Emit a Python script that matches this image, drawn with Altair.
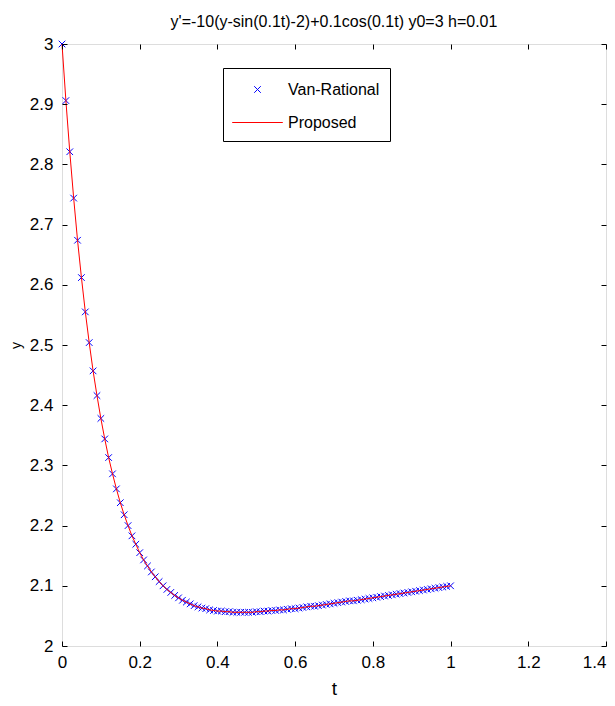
import altair as alt
import pandas as pd

# ---------------- data ----------------
t = [0.00, 0.01, 0.02, 0.03, 0.04, 0.05, 0.06, 0.07, 0.08, 0.09,
     0.10, 0.11, 0.12, 0.13, 0.14, 0.15, 0.16, 0.17, 0.18, 0.19,
     0.20, 0.21, 0.22, 0.23, 0.24, 0.25, 0.26, 0.27, 0.28, 0.29,
     0.30, 0.31, 0.32, 0.33, 0.34, 0.35, 0.36, 0.37, 0.38, 0.39,
     0.40, 0.41, 0.42, 0.43, 0.44, 0.45, 0.46, 0.47, 0.48, 0.49,
     0.50, 0.51, 0.52, 0.53, 0.54, 0.55, 0.56, 0.57, 0.58, 0.59,
     0.60, 0.61, 0.62, 0.63, 0.64, 0.65, 0.66, 0.67, 0.68, 0.69,
     0.70, 0.71, 0.72, 0.73, 0.74, 0.75, 0.76, 0.77, 0.78, 0.79,
     0.80, 0.81, 0.82, 0.83, 0.84, 0.85, 0.86, 0.87, 0.88, 0.89,
     0.90, 0.91, 0.92, 0.93, 0.94, 0.95, 0.96, 0.97, 0.98, 0.99, 1.00]

van_rational = [3.000, 2.906, 2.821, 2.744, 2.674, 2.612, 2.555, 2.504, 2.457, 2.416,
                2.378, 2.344, 2.313, 2.286, 2.261, 2.238, 2.218, 2.200, 2.183, 2.169,
                2.155, 2.143, 2.133, 2.123, 2.115, 2.107, 2.100, 2.094, 2.089, 2.084,
                2.080, 2.076, 2.073, 2.070, 2.067, 2.065, 2.063, 2.062, 2.060, 2.059,
                2.058, 2.058, 2.057, 2.057, 2.056, 2.056, 2.056, 2.056, 2.056, 2.056,
                2.057, 2.057, 2.058, 2.058, 2.059, 2.059, 2.060, 2.060, 2.061, 2.062,
                2.062, 2.063, 2.064, 2.065, 2.066, 2.066, 2.067, 2.068, 2.069, 2.070,
                2.071, 2.072, 2.073, 2.074, 2.075, 2.075, 2.076, 2.077, 2.078, 2.079,
                2.080, 2.081, 2.082, 2.083, 2.084, 2.085, 2.086, 2.087, 2.088, 2.089,
                2.090, 2.091, 2.092, 2.093, 2.094, 2.095, 2.096, 2.097, 2.098, 2.099, 2.100]

proposed = [3.000, 2.906, 2.821, 2.744, 2.674, 2.612, 2.555, 2.504, 2.457, 2.416,
            2.378, 2.344, 2.313, 2.286, 2.261, 2.238, 2.218, 2.200, 2.183, 2.169,
            2.155, 2.143, 2.133, 2.123, 2.115, 2.107, 2.100, 2.094, 2.089, 2.084,
            2.080, 2.076, 2.073, 2.070, 2.067, 2.065, 2.063, 2.062, 2.060, 2.059,
            2.058, 2.058, 2.057, 2.057, 2.056, 2.056, 2.056, 2.056, 2.056, 2.056,
            2.057, 2.057, 2.058, 2.058, 2.059, 2.059, 2.060, 2.060, 2.061, 2.062,
            2.062, 2.063, 2.064, 2.065, 2.066, 2.066, 2.067, 2.068, 2.069, 2.070,
            2.071, 2.072, 2.073, 2.074, 2.075, 2.075, 2.076, 2.077, 2.078, 2.079,
            2.080, 2.081, 2.082, 2.083, 2.084, 2.085, 2.086, 2.087, 2.088, 2.089,
            2.090, 2.091, 2.092, 2.093, 2.094, 2.095, 2.096, 2.097, 2.098, 2.099, 2.100]

series_names = ["Van-Rational", "Proposed"]
x_ticks = [0, 0.2, 0.4, 0.6, 0.8, 1, 1.2, 1.4]
y_ticks = [2, 2.1, 2.2, 2.3, 2.4, 2.5, 2.6, 2.7, 2.8, 2.9, 3]
title_text = "y'=-10(y-sin(0.1t)-2)+0.1cos(0.1t) y0=3 h=0.01"

# ---------------- styling ----------------
W, H = 544, 602
FONT = "Liberation Sans, Arial, sans-serif"
BLUE = "#0000ff"
RED = "#ff0000"
X_PATH = "M-0.3,-0.3L0.3,0.3M-0.3,0.3L0.3,-0.3"
L_PATH = "M-2.3,0L2.3,0"

df_v = pd.DataFrame({"t": t, "y": van_rational, "series": "Van-Rational"})
df_p = pd.DataFrame({"t": t, "y": proposed, "series": "Proposed"})

xs = alt.Scale(domain=[0, 1.4], nice=False, zero=False)
ys = alt.Scale(domain=[2, 3], nice=False, zero=False)

axis_x_labels = alt.Axis(
    orient="bottom", values=x_ticks, format="~g", ticks=False, tickSize=0,
    domain=False, grid=False, labelPadding=8, labelFontSize=17, labelFont=FONT,
    labelColor="black", labelFlush=False, labelOverlap=False,
    labelAlign={"condition": {"test": "datum.value >= 1.4", "value": "right"},
                "value": "center"},
    title="t", titleFont=FONT, titleFontSize=19, titleFontWeight="normal",
    titleColor="black", titleX=W / 2, titleY=48, titleBaseline="alphabetic",
    titleAlign="center",
)
axis_y_labels = alt.Axis(
    orient="left", values=y_ticks, format="~g", ticks=False, tickSize=0,
    domain=False, grid=False, labelPadding=9, labelFontSize=17, labelFont=FONT,
    labelColor="black", labelFlush=False, labelOverlap=False,
    title="y", titleFont=FONT, titleFontSize=14, titleFontWeight="normal",
    titleColor="black", titleX=-45.5, titleY=H / 2, titleBaseline="middle",
    titleAlign="center", titleAngle=270,
)


def tick_axis(orient, offset, values):
    return alt.Axis(
        orient=orient, offset=offset, values=values, labels=False, ticks=True,
        tickSize=5, tickColor="black", tickWidth=1, domain=False, grid=False,
        title=None, zindex=2,
    )


legend_common = dict(
    title=None, orient="none", legendX=161, legendY=24, padding=10,
    rowPadding=13, symbolSize=484, symbolOffset=13, labelOffset=19,
    labelFont=FONT, labelFontSize=16, labelColor="black",
    strokeColor="black", fillColor="white", symbolStrokeWidth=1,
    symbolFillColor="transparent", symbolOpacity=1,
)

points = alt.Chart(df_v).mark_point(
    filled=False, size=484, strokeWidth=1, opacity=1
).encode(
    x=alt.X("t:Q", scale=xs, axis=axis_x_labels),
    y=alt.Y("y:Q", scale=ys, axis=axis_y_labels),
    color=alt.Color("series:N",
                    scale=alt.Scale(domain=series_names, range=[BLUE, RED]),
                    legend=alt.Legend(**legend_common)),
    shape=alt.Shape("series:N",
                    scale=alt.Scale(domain=series_names, range=[X_PATH, L_PATH]),
                    legend=alt.Legend(**legend_common)),
)

line = alt.Chart(df_p).mark_line(color=RED, strokeWidth=1).encode(
    x=alt.X("t:Q", scale=xs, axis=tick_axis("top", -H, x_ticks)),
    y=alt.Y("y:Q", scale=ys, axis=tick_axis("right", -W, y_ticks)),
)

ghost = alt.Chart(df_p).mark_line(opacity=0).encode(
    x=alt.X("t:Q", scale=xs, axis=tick_axis("bottom", -H, x_ticks)),
    y=alt.Y("y:Q", scale=ys, axis=tick_axis("left", -W, y_ticks)),
)

chart = alt.layer(points, line, ghost).resolve_axis(
    x="independent", y="independent"
).properties(
    width=W, height=H,
    title=alt.TitleParams(text=title_text, font=FONT, fontSize=16,
                          fontWeight="normal", color="black", anchor="middle",
                          offset=10, dy=18, baseline="alphabetic"),
    autosize=alt.AutoSizeParams(type="none"),
    padding={"left": 54, "top": 36, "right": 1, "bottom": 52},
).configure_view(
    stroke="black", strokeWidth=1
).configure(background="white")

chart.save("out.html", embed_options={"renderer": "svg", "actions": False})
